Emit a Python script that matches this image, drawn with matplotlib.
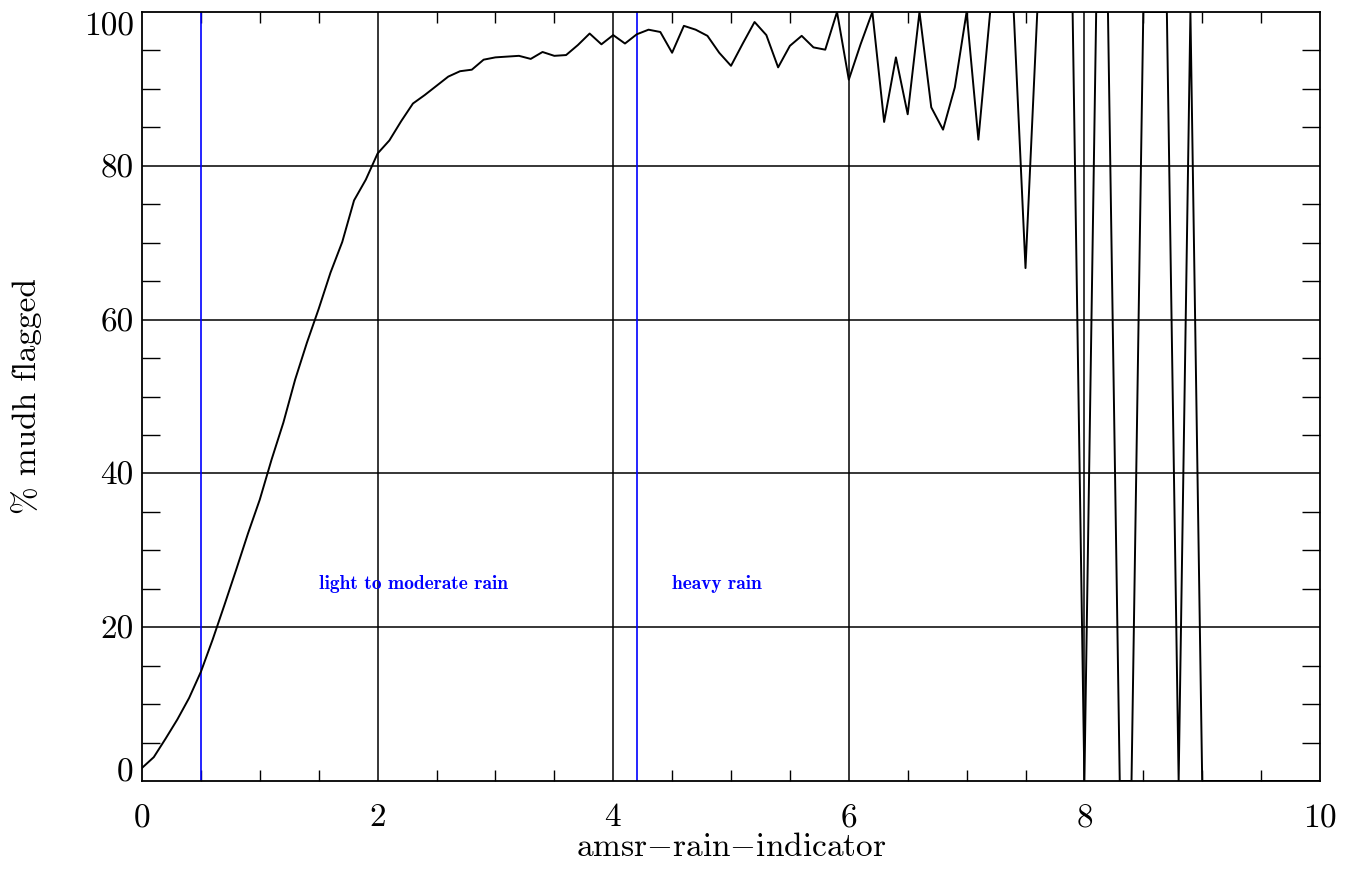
import numpy as np
import matplotlib
matplotlib.use("Agg")
import matplotlib.pyplot as plt
from matplotlib.ticker import MultipleLocator

plt.rcParams['font.family'] = ['cmr10', 'DejaVu Serif']
plt.rcParams['mathtext.fontset'] = 'cm'
plt.rcParams['axes.formatter.use_mathtext'] = True

# rain indicator bins (0.1 step)
rain_indicator = np.round(np.arange(0, 101) * 0.1, 1)
pct_flagged = [
    1.7, 3.1, 5.5, 8.0, 10.8, 14.2, 18.4, 22.9, 27.5, 32.2,
    36.6, 41.8, 46.6, 52.2, 57.0, 61.4, 66.1, 70.1, 75.5, 78.2,
    81.6, 83.3, 85.8, 88.1, 89.2, 90.4, 91.6, 92.3, 92.5, 93.8,
    94.1, 94.2, 94.3, 93.9, 94.8, 94.3, 94.4, 95.7, 97.2, 95.8,
    97.0, 95.9, 97.1, 97.7, 97.4, 94.7, 98.2, 97.7, 96.9, 94.7,
    93.0, 95.9, 98.7, 97.0, 92.8, 95.6, 96.9, 95.4, 95.1, 100.0,
    91.2, 95.8, 100.0, 85.7, 94.1, 86.7, 100.0, 87.6, 84.7, 90.2,
    100.0, 83.4, 100.0, 100.0, 100.0, 66.7, 100.0, 100.0, 100.0, 100.0,
    0.0, 100.0, 100.0, 0.0, 0.0, 100.0, 100.0, 100.0, 0.0, 100.0,
    0.0, 0.0, 0.0, 0.0, 0.0, 0.0, 0.0, 0.0, 0.0, 0.0, 0.0,
]
threshold_lines = [0.5, 4.2]
region_labels = ["light to moderate rain", "heavy rain"]
region_label_x = [1.5, 4.5]
region_label_y = 25
x_ticks = [0, 2, 4, 6, 8, 10]
y_ticks = [0, 20, 40, 60, 80, 100]

fig = plt.figure(figsize=(13.6, 8.81), dpi=100)
ax = fig.add_axes([142/1360, 1 - 781/881, (1320-142)/1360, (781-12)/881])

ax.set_xlim(0, 10)
ax.set_ylim(0, 100)

for xv in x_ticks[1:-1]:
    ax.axvline(xv, color='black', lw=1.1, zorder=1)
for yv in y_ticks[1:-1]:
    ax.axhline(yv, color='black', lw=1.1, zorder=1)

for xv in threshold_lines:
    ax.axvline(xv, color='#0000ff', lw=1.2, zorder=2)

ax.plot(rain_indicator, pct_flagged, color='black', lw=1.4, zorder=3)

for lab, xv in zip(region_labels, region_label_x):
    ax.text(xv, region_label_y, lab, color='#0000ff', fontsize=14,
            family=['cmb10', 'DejaVu Serif'], va='baseline', ha='left')

ax.set_xticks(x_ticks)
ax.set_yticks(y_ticks)
ax.xaxis.set_minor_locator(MultipleLocator(0.5))
ax.yaxis.set_minor_locator(MultipleLocator(5))
ax.tick_params(axis='both', which='both', direction='in', top=True, right=True, width=1.0)
ax.tick_params(axis='x', which='major', length=0, pad=16, labelsize=24)
ax.tick_params(axis='x', which='minor', length=8)
ax.tick_params(axis='y', which='major', length=0, pad=6, labelsize=24)
ax.tick_params(axis='y', which='minor', length=13)

ax.set_yticklabels([str(v) for v in y_ticks])
ylabs = ax.get_yticklabels()
ylabs[0].set_va('baseline')
ylabs[-1].set_va('top')

for s in ax.spines.values():
    s.set_linewidth(1.3)

ax.set_xlabel(r"amsr$-$rain$-$indicator", fontsize=24, va='top')
ax.xaxis.set_label_coords(0.5, -0.068)
ax.set_ylabel("% mudh flagged", fontsize=24)
ax.yaxis.set_label_coords(-0.085, 0.5)

fig.savefig("out.png", dpi=100)
